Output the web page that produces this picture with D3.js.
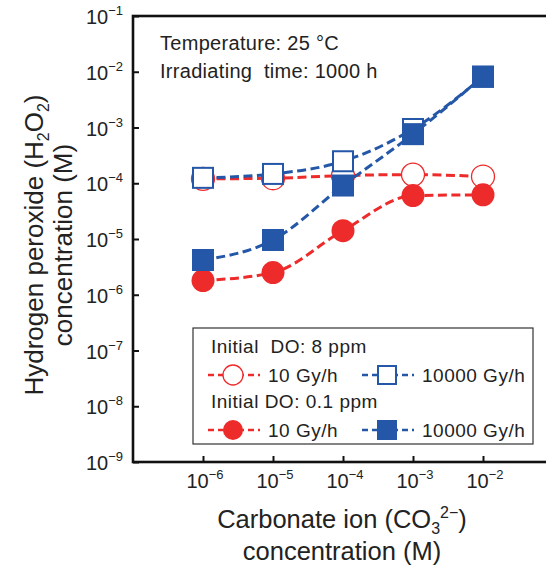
<!DOCTYPE html>
<html>
<head>
<meta charset="utf-8">
<script src="https://cdn.jsdelivr.net/npm/d3@7"></script>
<style>
  body { margin: 0; background: #fff; }
  svg text { font-family: "Liberation Sans", Arial, Helvetica, sans-serif; fill: #222; }
</style>
</head>
<body>
<svg id="chart" width="546" height="567"></svg>
<script>
// carbonate ion concentration (M)
var carbonate = [1e-6, 1e-5, 1e-4, 1e-3, 1e-2];
// H2O2 concentration (M)
var do8Low = [1.2e-4, 1.23e-4, 1.37e-4, 1.43e-4, 1.32e-4];      // DO 8 ppm, 10 Gy/h
var do8High = [1.25e-4, 1.47e-4, 2.48e-4, 9.4e-4, 8.1e-3];      // DO 8 ppm, 10000 Gy/h
var do01Low = [1.8e-6, 2.5e-6, 1.41e-5, 6.0e-5, 6.2e-5];        // DO 0.1 ppm, 10 Gy/h
var do01High = [4.2e-6, 9.6e-6, 9.1e-5, 7.6e-4, 8.2e-3];        // DO 0.1 ppm, 10000 Gy/h
var yTickExp = [-1, -2, -3, -4, -5, -6, -7, -8, -9];
var xTickExp = [-6, -5, -4, -3, -2];

var red = "#ee2b2b",
  blue = "#2457a7";

var svg = d3.select("#chart");
var plotL = 133, plotR = 553, plotT = 16, plotB = 462;

var x = d3.scaleLog().domain([1e-7, 1e-1]).range([plotL, plotR]);
var y = d3.scaleLog().domain([1e-9, 1e-1]).range([plotB, plotT]);

// frame
svg.append("rect")
  .attr("x", plotL).attr("y", plotT)
  .attr("width", plotR - plotL).attr("height", plotB - plotT)
  .attr("fill", "none").attr("stroke", "#111").attr("stroke-width", 2.6);

// y ticks
var yAxis = svg.append("g").attr("transform", "translate(" + plotL + ",0)")
  .call(d3.axisLeft(y).tickValues(yTickExp.map(function (e) { return Math.pow(10, e); }))
    .tickSize(-6).tickFormat(""));
yAxis.select(".domain").remove();
yAxis.selectAll("line").attr("stroke", "#111").attr("stroke-width", 2);

yTickExp.forEach(function (e) {
  var t = svg.append("text")
    .attr("x", 123).attr("y", y(Math.pow(10, e)) + 8)
    .attr("text-anchor", "end").style("font-size", "20px")
    .text("10");
  t.append("tspan").attr("dy", -9).style("font-size", "13px").text("\u2212" + Math.abs(e));
});

// x ticks
var xAxis = svg.append("g").attr("transform", "translate(0," + plotB + ")")
  .call(d3.axisBottom(x).tickValues(xTickExp.map(function (e) { return Math.pow(10, e); }))
    .tickSize(-6).tickFormat(""));
xAxis.select(".domain").remove();
xAxis.selectAll("line").attr("stroke", "#111").attr("stroke-width", 2);

xTickExp.forEach(function (e) {
  var t = svg.append("text")
    .attr("x", x(Math.pow(10, e)) + 2).attr("y", 488)
    .attr("text-anchor", "middle").style("font-size", "20px")
    .text("10");
  t.append("tspan").attr("dy", -9).style("font-size", "13px").text("\u2212" + Math.abs(e));
});

// axis titles
var xt = svg.append("text").attr("x", 342).attr("y", 528)
  .attr("text-anchor", "middle").style("font-size", "25.5px").text("Carbonate ion (CO");
xt.append("tspan").attr("dy", 6).style("font-size", "16px").text("3");
xt.append("tspan").attr("dy", -16).style("font-size", "16px").text("2\u2212");
xt.append("tspan").attr("dy", 10).text(")");
svg.append("text").attr("x", 342).attr("y", 560)
  .attr("text-anchor", "middle").style("font-size", "25.5px").text("concentration (M)");

var yt = svg.append("text").attr("transform", "translate(43,245) rotate(-90)")
  .attr("text-anchor", "middle").style("font-size", "26px").text("Hydrogen peroxide (H");
yt.append("tspan").attr("dy", 6).style("font-size", "16px").text("2");
yt.append("tspan").attr("dy", -6).text("O");
yt.append("tspan").attr("dy", 6).style("font-size", "16px").text("2");
yt.append("tspan").attr("dy", -6).text(")");
svg.append("text").attr("transform", "translate(72,245) rotate(-90)")
  .attr("text-anchor", "middle").style("font-size", "26px").text("concentration (M)");

// annotation
svg.append("text").attr("x", 160).attr("y", 50).style("font-size", "20px")
  .style("letter-spacing", "0.3px").text("Temperature: 25 \u00b0C");
svg.append("text").attr("x", 160).attr("y", 78).style("font-size", "20px")
  .style("letter-spacing", "0.3px")
  .attr("xml:space", "preserve").text("Irradiating  time: 1000 h");

// series
var series = [
  { values: do8Low, color: red, shape: "circle", filled: false },
  { values: do8High, color: blue, shape: "square", filled: false },
  { values: do01Low, color: red, shape: "circle", filled: true },
  { values: do01High, color: blue, shape: "square", filled: true }
];

var line = d3.line()
  .x(function (d) { return x(d[0]); })
  .y(function (d) { return y(d[1]); })
  .curve(d3.curveMonotoneX);

function marker(g, s, size) {
  if (s.shape === "circle") {
    g.append("circle").attr("r", size / 2)
      .attr("fill", s.filled ? s.color : "#fff")
      .attr("stroke", s.color).attr("stroke-width", s.filled ? 0 : 1.3);
  } else {
    var h = s.filled ? size : size - 2;
    g.append("rect").attr("x", -h / 2).attr("y", -h / 2)
      .attr("width", h).attr("height", h)
      .attr("fill", s.filled ? s.color : "#fff")
      .attr("stroke", s.color).attr("stroke-width", s.filled ? 0 : 2);
  }
}

series.forEach(function (s) {
  var pts = carbonate.map(function (c, i) { return [c, s.values[i]]; });
  svg.append("path").attr("d", line(pts))
    .attr("fill", "none").attr("stroke", s.color)
    .attr("stroke-width", 3).attr("stroke-dasharray", "9,4.5");
  pts.forEach(function (p) {
    var g = svg.append("g").attr("transform", "translate(" + x(p[0]) + "," + y(p[1]) + ")");
    marker(g, s, s.shape === "circle" ? 23 : 22);
  });
});

// legend
var lg = svg.append("g");
lg.append("rect").attr("x", 193).attr("y", 328).attr("width", 340).attr("height", 116)
  .attr("fill", "#fff").attr("stroke", "#333").attr("stroke-width", 1.2);
lg.append("text").attr("x", 211).attr("y", 353).style("font-size", "19px")
  .style("letter-spacing", "0.5px")
  .attr("xml:space", "preserve").text("Initial  DO: 8 ppm");
lg.append("text").attr("x", 211).attr("y", 408).style("font-size", "19px")
  .style("letter-spacing", "0.5px").text("Initial DO: 0.1 ppm");

var legendItems = [
  { s: series[0], x: 208, y: 375, label: "10 Gy/h" },
  { s: series[1], x: 362, y: 375, label: "10000 Gy/h" },
  { s: series[2], x: 208, y: 430, label: "10 Gy/h" },
  { s: series[3], x: 362, y: 430, label: "10000 Gy/h" }
];
legendItems.forEach(function (it) {
  lg.append("line").attr("x1", it.x).attr("x2", it.x + 52)
    .attr("y1", it.y).attr("y2", it.y)
    .attr("stroke", it.s.color).attr("stroke-width", 2.6).attr("stroke-dasharray", "6,4");
  var g = lg.append("g").attr("transform", "translate(" + (it.x + 25) + "," + it.y + ")");
  marker(g, it.s, 20);
  lg.append("text").attr("x", it.x + 60).attr("y", it.y + 7).style("font-size", "19px")
    .style("letter-spacing", "0.5px").text(it.label);
});
</script>
</body>
</html>
